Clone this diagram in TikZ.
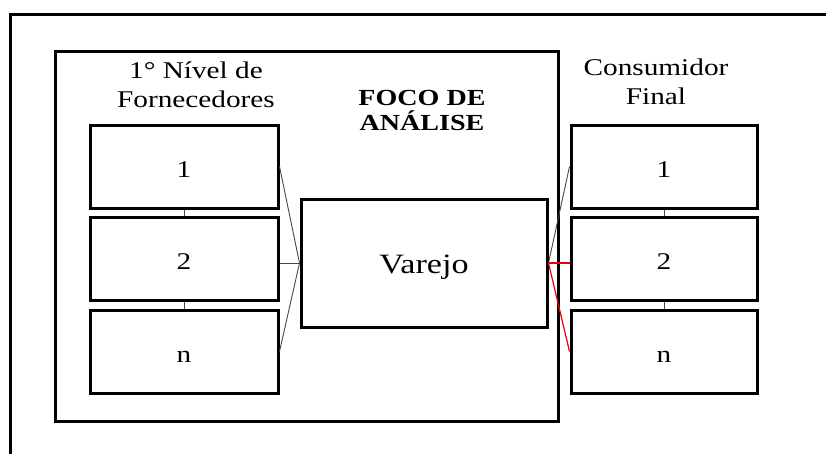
\documentclass[tikz,border=0pt]{standalone}
\usepackage{fontspec}
\setmainfont[FakeStretch=1.22]{Liberation Serif}
\begin{document}
\begin{tikzpicture}[x=1pt,y=-1pt,
  frame/.style={line width=3pt, draw=black},
  box/.style={draw=black, line width=3pt, minimum width=188pt, minimum height=83pt,
    inner sep=0pt, text height=21pt, text depth=0pt, font=\fontsize{24}{28}\selectfont},
  link/.style={draw=black!72, line width=0.9pt},
  redlink/.style={draw=red!92!black, line width=1.2pt},
  label/.style={align=center, inner sep=0pt, anchor=base, font=\fontsize{24}{29}\selectfont}
]
\useasboundingbox (0,0) rectangle (826,453);
% outer frame (open to right and bottom)
\draw[frame] (10,455) -- (10,14) -- (828,14);
% focus box
\node[frame, minimum width=503pt, minimum height=370pt, inner sep=0pt] (foco) at (306.5,236) {};
% left column
\node[box] (L1) at (184,166.5) {1};
\node[box] (L2) at (184,259) {2};
\node[box] (Ln) at (184,351.5) {n};
% right column
\node[box, minimum width=186pt] (R1) at (664,166.5) {1};
\node[box, minimum width=186pt] (R2) at (664,259) {2};
\node[box, minimum width=186pt] (Rn) at (664,351.5) {n};
% retail box
\node[draw=black, line width=3pt, minimum width=246pt, minimum height=128pt, inner sep=0pt,
  text height=20pt, text depth=0pt, font=\fontsize{28}{30}\selectfont] (var) at (424,263) {Varejo};
% labels
\node[label] (lforn) at (196,107) {1° Nível de\\Fornecedores};
\node[label, font=\bfseries\fontsize{23}{25}\selectfont] (lfoco) at (422,130) {FOCO DE\\ANÁLISE};
\node[label] (lcons) at (656,104) {Consumidor\\Final};
% connectors
\draw[link] (L1.south) -- (L2.north);
\draw[link] (L2.south) -- (Ln.north);
\draw[link] (R1.south) -- (R2.north);
\draw[link] (R2.south) -- (Rn.north);
\draw[link] (L1.east) -- (var.west);
\draw[link] (L2.east |- var.west) -- (var.west);
\draw[link] (Ln.east) -- (var.west);
\draw[link] (var.east) -- (R1.west);
\draw[redlink] (var.east) -- (var.east -| R2.west);
\draw[redlink] (var.east) -- (Rn.west);
\end{tikzpicture}
\end{document}
